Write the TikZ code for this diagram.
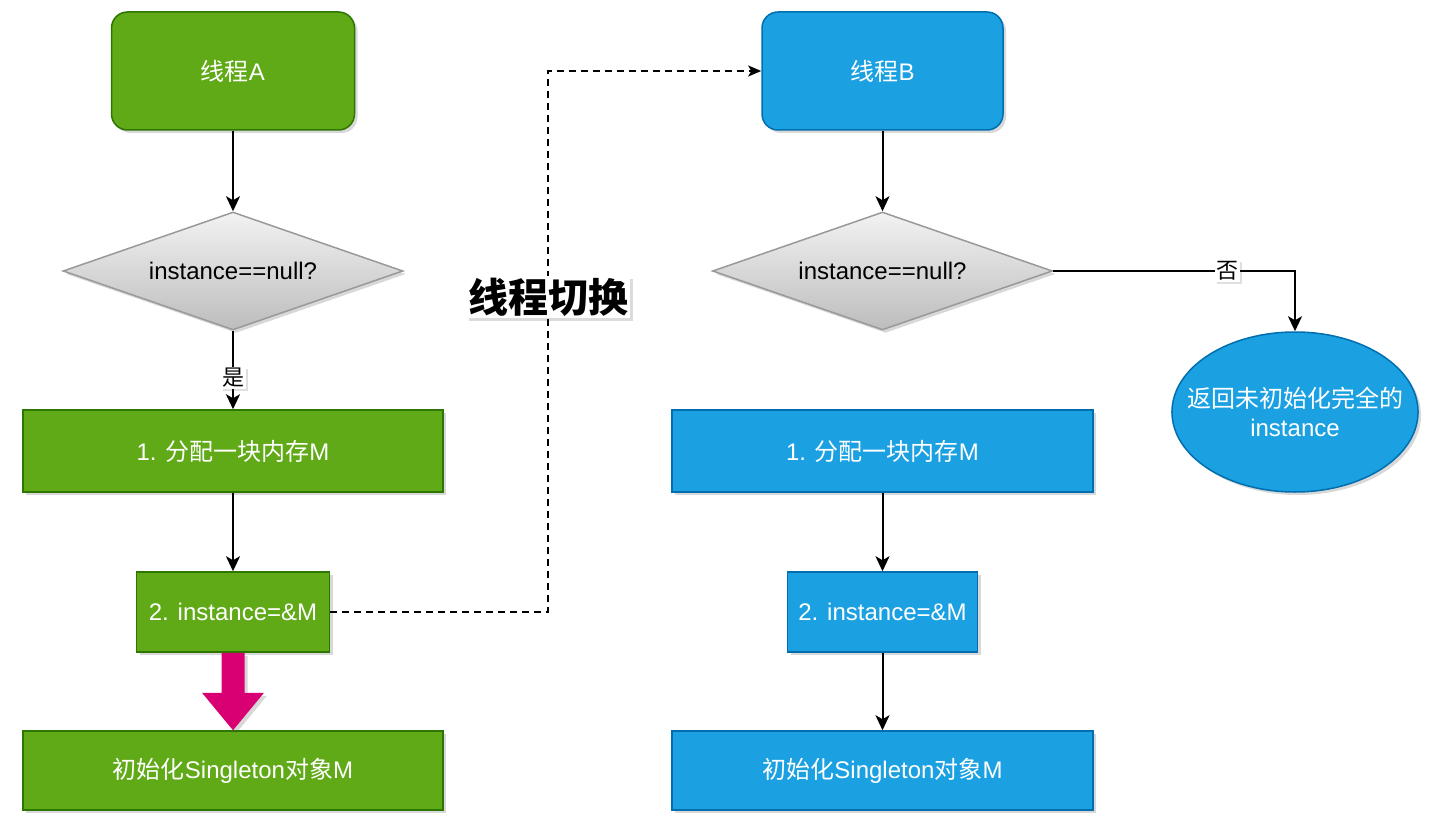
\documentclass[tikz,border=0pt]{standalone}
\usepackage{fontspec}
\setmainfont{Liberation Sans}
\newfontfamily\cjk{Noto Sans CJK SC}
\usetikzlibrary{shapes.geometric,arrows.meta,shadows,calc}
\definecolor{gA}{HTML}{60A917}
\definecolor{gAs}{HTML}{2D7600}
\definecolor{bB}{HTML}{1BA1E2}
\definecolor{bBs}{HTML}{006EAF}
\definecolor{pk}{HTML}{D80073}
\begin{document}
\begin{tikzpicture}[x=1pt,y=-1pt,font=\fontsize{24}{29}\selectfont,
  shd/.style={drop shadow={shadow xshift=3pt,shadow yshift=-3pt,opacity=0.22,fill=black!70}},
  gbox/.style={draw=gAs,fill=gA,text=white,line width=1.5pt,inner sep=0pt,shd},
  bbox/.style={draw=bBs,fill=bB,text=white,line width=1.5pt,inner sep=0pt,shd},
  cond/.style={diamond,draw=black!40,line width=1.5pt,top color=black!5,bottom color=black!26,
    shape aspect=2.88,minimum width=340,minimum height=118,inner sep=0pt,shd},
  arr/.style={line width=2pt,-{Stealth[length=15pt,width=14pt,inset=4pt]}},
  dsh/.style={line width=1.6pt,dash pattern=on 7pt off 5pt,-{Stealth[length=13pt,width=11pt,inset=3pt]}},
  slbl/.style={fill=white,inner sep=1.5pt,font=\cjk\fontsize{22}{26}\selectfont,
    drop shadow={shadow xshift=2pt,shadow yshift=-2pt,opacity=0.18,fill=black!70}},
  blbl/.style={fill=white,inner sep=2pt,font=\cjk\bfseries\fontsize{40}{48}\selectfont,
    drop shadow={shadow xshift=3pt,shadow yshift=-3pt,opacity=0.2,fill=black!70}}]
\useasboundingbox (0,0) rectangle (1430,829);

% left column: thread A
\node[gbox,rounded corners=16,minimum width=243,minimum height=118] (ta) at (233,71) {{\cjk 线程}A};
\node[cond] (da) at (233,271) {instance==null?};
\node[gbox,minimum width=420,minimum height=82] (b1a) at (233,451) {1. {\cjk 分配一块内存}M};
\node[gbox,minimum width=193,minimum height=80] (b2a) at (233,612) {2. instance=\&M};
\node[gbox,minimum width=420,minimum height=79] (b3a) at (233,770.5) {{\cjk 初始化}Singleton{\cjk 对象}M};

% right column: thread B
\node[bbox,rounded corners=16,minimum width=241,minimum height=118] (tb) at (882.5,71) {{\cjk 线程}B};
\node[cond] (db) at (882.5,271) {instance==null?};
\node[bbox,minimum width=421,minimum height=82] (b1b) at (882.5,451) {1. {\cjk 分配一块内存}M};
\node[bbox,minimum width=190,minimum height=80] (b2b) at (882.5,612) {2. instance=\&M};
\node[bbox,minimum width=421,minimum height=79] (b3b) at (882.5,770.5) {{\cjk 初始化}Singleton{\cjk 对象}M};
\node[ellipse,draw=bBs,fill=bB,text=white,line width=1.5pt,inner xsep=-21pt,inner ysep=0pt,shd,
  minimum width=246,minimum height=160,align=center] (ell) at (1295,412)
  {{\cjk 返回未初始化完全的}\\instance};

% connectors A
\draw[arr] (ta) -- (da);
\draw[arr] (da.south) -- node[pos=0.6,slbl] {是} (b1a.north);
\draw[arr] (b1a) -- (b2a);
\fill[pk,shd] ($(b2a.south)+(-11.5,0)$) -- ($(b2a.south)+(-11.5,40)$) -- ($(b2a.south)+(-31,40)$)
  -- (b3a.north) -- ($(b2a.south)+(31,40)$) -- ($(b2a.south)+(11.5,40)$) -- ($(b2a.south)+(11.5,0)$) -- cycle;

% connectors B
\draw[arr] (tb) -- (db);
\draw[arr] (db.east) -| node[pos=0.36,slbl] {否} (ell.north);
\draw[arr] (b1b) -- (b2b);
\draw[arr] (b2b) -- (b3b);

% thread switch
\coordinate (sw) at (548,297);
\draw[dsh] (b2a.east) -| (sw) |- (tb.west);
\node[blbl] (swl) at (sw) {线程切换};
\end{tikzpicture}
\end{document}
